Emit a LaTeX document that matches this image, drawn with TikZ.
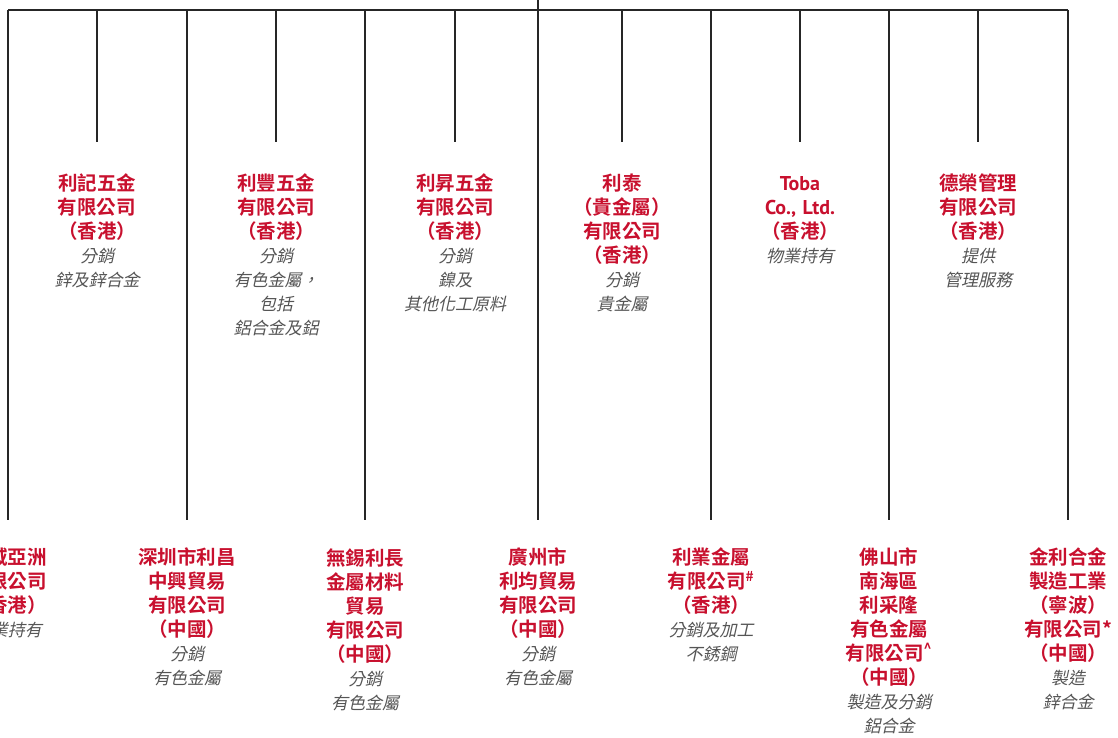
\documentclass[tikz,border=0pt]{standalone}
\usepackage{fontspec}
\setmainfont{Noto Sans CJK TC}[BoldFont={Noto Sans CJK TC Bold}, ItalicFont={Noto Sans CJK TC}, ItalicFeatures={FakeSlant=0.22}]
\newfontfamily\latinfont{PT Sans}
\definecolor{leered}{RGB}{200,16,46}
\definecolor{dutygray}{RGB}{85,85,85}
\newcommand{\firmname}[1]{{\color{leered}\bfseries #1}}
\newcommand{\firmduty}[1]{{\color{dutygray}\itshape\fontsize{17}{24}\selectfont #1}}
\tikzset{
	firm/.style={anchor=north, align=center, text width=150pt, inner xsep=0pt, inner ysep=28pt, font=\fontsize{19.5}{24}\selectfont},
	upperfirm/.style={firm, inner ysep=32pt},
	link/.style={draw, line width=1.1pt, black!85}
}

\begin{document}
\begin{tikzpicture}[x=1pt, y=-1pt]
	\useasboundingbox (0,0) rectangle (1118,738);
	\coordinate (root) at (538,-5);
	\coordinate (bar) at (538,10);
	\node[upperfirm](likee) at (97,142){\firmname{利記五金\\有限公司\\（香港）}\\\firmduty{分銷\\鋅及鋅合金}};
	\node[upperfirm](leefung) at (276,142){\firmname{利豐五金\\有限公司\\（香港）}\\\firmduty{分銷\\有色金屬，\\包括\\鋁合金及鋁}};
	\node[upperfirm](leesing) at (455,142){\firmname{利昇五金\\有限公司\\（香港）}\\\firmduty{分銷\\鎳及\\其他化工原料}};
	\node[upperfirm](leetai) at (622,142){\firmname{利泰\\（貴金屬）\\有限公司\\（香港）}\\\firmduty{分銷\\貴金屬}};
	\node[upperfirm](toba) at (800,142){\firmname{\vphantom{利}{\latinfont\fontsize{20}{24}\selectfont Toba}\\{\latinfont\fontsize{20}{24}\selectfont Co., Ltd.}\\（香港）}\\\firmduty{物業持有}};
	\node[upperfirm](takwing) at (978,142){\firmname{德榮管理\\有限公司\\（香港）}\\\firmduty{提供\\管理服務}};
	\node[firm](asia) at (8,520){\firmname{利域亞洲\\有限公司\\（香港）}\\\firmduty{物業持有}};
	\node[firm](shenzhen) at (187,520){\firmname{深圳市利昌\\中興貿易\\有限公司\\（中國）}\\\firmduty{分銷\\有色金屬}};
	\node[firm](wuxi) at (365,520){\firmname{無錫利長\\金屬材料\\貿易\\有限公司\\（中國）}\\\firmduty{分銷\\有色金屬}};
	\node[firm](guangzhou) at (538,520){\firmname{廣州市\\利均貿易\\有限公司\\（中國）}\\\firmduty{分銷\\有色金屬}};
	\node[firm](leeyip) at (711,520){\firmname{利業金屬\\有限公司\textsuperscript{\#}\\（香港）}\\\firmduty{分銷及加工\\不銹鋼}};
	\node[firm](foshan) at (889,520){\firmname{佛山市\\南海區\\利采隆\\有色金屬\\有限公司\textsuperscript{\textasciicircum}\\（中國）}\\\firmduty{製造及分銷\\鋁合金}};
	\node[firm](ningbo) at (1068,520){\firmname{金利合金\\製造工業\\（寧波）\\有限公司*\\（中國）}\\\firmduty{製造\\鋅合金}};
	\path[link] (asia.north |- bar) -- (ningbo.north |- bar);
	\path[link, line width=1.6pt] (wuxi.north |- bar) -- (leeyip.north |- bar);
	\path[link, line width=2.2pt] (leesing.north |- bar) -- (leetai.north |- bar);
	\path[link] (root) -- (bar);
	\path[link] (likee.north |- bar) -- (likee.north);
	\path[link] (leefung.north |- bar) -- (leefung.north);
	\path[link] (leesing.north |- bar) -- (leesing.north);
	\path[link] (leetai.north |- bar) -- (leetai.north);
	\path[link] (toba.north |- bar) -- (toba.north);
	\path[link] (takwing.north |- bar) -- (takwing.north);
	\path[link] (asia.north |- bar) -- (asia.north);
	\path[link] (shenzhen.north |- bar) -- (shenzhen.north);
	\path[link] (wuxi.north |- bar) -- (wuxi.north);
	\path[link] (guangzhou.north |- bar) -- (guangzhou.north);
	\path[link] (leeyip.north |- bar) -- (leeyip.north);
	\path[link] (foshan.north |- bar) -- (foshan.north);
	\path[link] (ningbo.north |- bar) -- (ningbo.north);
\end{tikzpicture}
\end{document}
